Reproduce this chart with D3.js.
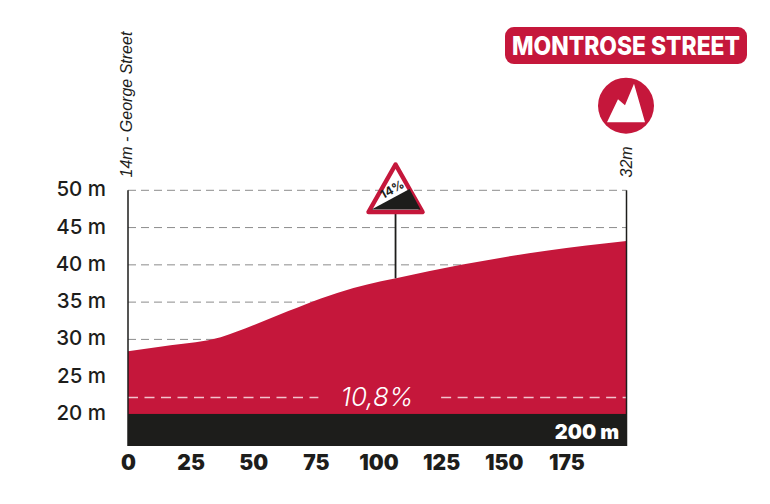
<!DOCTYPE html>
<html>
<head>
<meta charset="utf-8">
<script src="https://cdn.jsdelivr.net/npm/d3@7"></script>
<style>
	html, body { margin: 0; background: #fff; }
	svg { display: block; }
</style>
</head>
<body>
<svg width="770" height="504"></svg>
<script>
// profile: metres from the start, altitude in metres
const distance = [0, 17, 37, 50, 64, 77, 90, 101, 107, 133, 167, 199];
const altitude = [28.4, 29.2, 30.3, 31.9, 33.8, 35.5, 36.9, 37.8, 38.2, 40.0, 41.9, 43.2];

const distanceTicks = [0, 25, 50, 75, 100, 125, 150, 175];
const altitudeTicks = [20, 25, 30, 35, 40, 45, 50];

const startLabel = '14m - George Street';
const finishLabel = '32m';
const finishName = 'MONTROSE STREET';
const lengthLabel = '200 m';
const averageLabel = '10,8%';
const averageLevel = 22.2;
const signLabel = '14%';
const signDistance = 107.0;
const baseLevel = 20;
const floorLevel = 15.7;

const red = '#c5173b';
const dark = '#1d1d1b';

const svg = d3.select('svg');

const xScale = d3.scaleLinear().domain([0, 199]).range([128, 626.5]);
const yScale = d3.scaleLinear().domain([floorLevel, 50]).range([446, 190.3]);

const profile = distance.map((d, i) => ({ d: d, alt: altitude[i] }));

//grid goes first, the area covers it
svg.append('g').selectAll('line').data(altitudeTicks.filter(t => t > baseLevel))
	.enter().append('line')
		.attr('x1', xScale(0))
		.attr('x2', xScale(199))
		.attr('y1', t => yScale(t))
		.attr('y2', t => yScale(t))
		.attr('stroke', '#8c8c8c')
		.attr('stroke-width', 1)
		.attr('stroke-dasharray', '8 5');

const area = d3.area()
	.x(row => xScale(row.d))
	.y0(yScale(baseLevel))
	.y1(row => yScale(row.alt))
	.curve(d3.curveMonotoneX);

svg.append('path')
	.datum(profile)
	.attr('d', area)
	.attr('fill', red);

svg.append('rect')
	.attr('x', xScale(0))
	.attr('y', yScale(baseLevel))
	.attr('width', xScale(199) - xScale(0))
	.attr('height', yScale(floorLevel) - yScale(baseLevel))
	.attr('fill', dark);

//average gradient line, with a gap for its label
[[0, 76], [125, 199]].forEach(part => {
	svg.append('line')
		.attr('x1', xScale(part[0]))
		.attr('x2', xScale(part[1]))
		.attr('y1', yScale(averageLevel))
		.attr('y2', yScale(averageLevel))
		.attr('stroke', '#f3c3cd')
		.attr('stroke-width', 1.5)
		.attr('stroke-dasharray', '10 6.5');
});

svg.append('text')
	.attr('x', 377)
	.attr('y', 406)
	.attr('text-anchor', 'middle')
	.attr('font-family', 'Inter')
	.attr('font-size', 26)
	.attr('font-weight', 300)
	.attr('font-style', 'italic')
	.attr('fill', '#fff')
	.text(averageLabel);

svg.append('text')
	.attr('x', 619)
	.attr('y', 439)
	.attr('text-anchor', 'end')
	.attr('font-family', 'Inter')
	.attr('font-size', 20)
	.attr('font-weight', 900)
	.attr('fill', '#fff')
	.text(lengthLabel);

//start and finish posts
[0, 199].forEach(d => {
	svg.append('line')
		.attr('x1', xScale(d))
		.attr('x2', xScale(d))
		.attr('y1', yScale(50))
		.attr('y2', yScale(floorLevel))
		.attr('stroke', dark)
		.attr('stroke-width', 1.5);
});

const postLabel = (d, label) => svg.append('text')
	.attr('transform', `translate(${xScale(d) + (d === 0 ? 4 : 5)}, 177.5) rotate(-90)`)
	.attr('font-family', 'Liberation Sans')
	.attr('font-style', 'italic')
	.attr('font-size', 16)
	.attr('fill', dark)
	.text(label);

postLabel(0, startLabel);
postLabel(199, finishLabel);

//axes
const yAxis = d3.axisLeft(yScale)
	.tickValues(altitudeTicks)
	.tickSize(0)
	.tickPadding(0)
	.tickFormat(t => `${t} m`);

svg.append('g')
	.attr('transform', 'translate(106, -1)')
	.call(yAxis)
	.call(g => g.select('.domain').remove())
	.selectAll('text')
		.attr('font-family', 'Inter')
		.attr('font-size', 20.5)
		.attr('font-weight', 500)
		.attr('fill', dark);

const xAxis = d3.axisBottom(xScale)
	.tickValues(distanceTicks)
	.tickSize(0)
	.tickPadding(0);

svg.append('g')
	.attr('transform', 'translate(0, 455)')
	.call(xAxis)
	.call(g => g.select('.domain').remove())
	.selectAll('text')
		.attr('font-family', 'Inter')
		.attr('font-size', 21)
		.attr('font-weight', 900)
		.attr('fill', dark);

//gradient sign on its pole
const signX = xScale(signDistance) - 0.5;
const signAlt = yScale(altitude[distance.indexOf(signDistance)]);

svg.append('line')
	.attr('x1', signX)
	.attr('x2', signX)
	.attr('y1', 212)
	.attr('y2', signAlt)
	.attr('stroke', dark)
	.attr('stroke-width', 1.8);

const sign = svg.append('g').attr('transform', `translate(${signX}, 213)`);

sign.append('path')
	.attr('d', 'M0,-48.5 L27,-1 L-27,-1 Z')
	.attr('fill', '#fff')
	.attr('stroke', red)
	.attr('stroke-width', 4.5)
	.attr('stroke-linejoin', 'round');

sign.append('path')
	.attr('d', 'M-24,-3.5 L14,-24 L25,-3.5 Z')
	.attr('fill', dark);

sign.append('text')
	.attr('transform', 'translate(-1.5, -20) rotate(-29)')
	.attr('text-anchor', 'middle')
	.attr('font-family', 'Inter')
	.attr('font-size', 12)
	.attr('font-weight', 700)
	.attr('fill', dark)
	.text(signLabel);

//finish badge and climb icon
svg.append('rect')
	.attr('x', 505)
	.attr('y', 27)
	.attr('width', 242)
	.attr('height', 37)
	.attr('rx', 9)
	.attr('fill', red);

const badgeText = svg.append('text')
	.attr('text-anchor', 'middle')
	.attr('font-family', 'Inter')
	.attr('font-size', 26)
	.attr('font-weight', 800)
	.attr('fill', '#fff')
	.text(finishName);

//squeeze the name to the width of the badge lettering
const badgeScale = 228 / badgeText.node().getComputedTextLength();
badgeText.attr('transform', `translate(626, 55) scale(${badgeScale}, 1)`);

const icon = svg.append('g').attr('transform', 'translate(626, 105.7)');

icon.append('circle')
	.attr('r', 28)
	.attr('fill', red);

icon.append('path')
	.attr('d', 'M-19,16.5 L-8,-6.5 L-1,-0.5 L8,-22 L19,16.5 Z')
	.attr('fill', '#fff');
</script>
</body>
</html>
